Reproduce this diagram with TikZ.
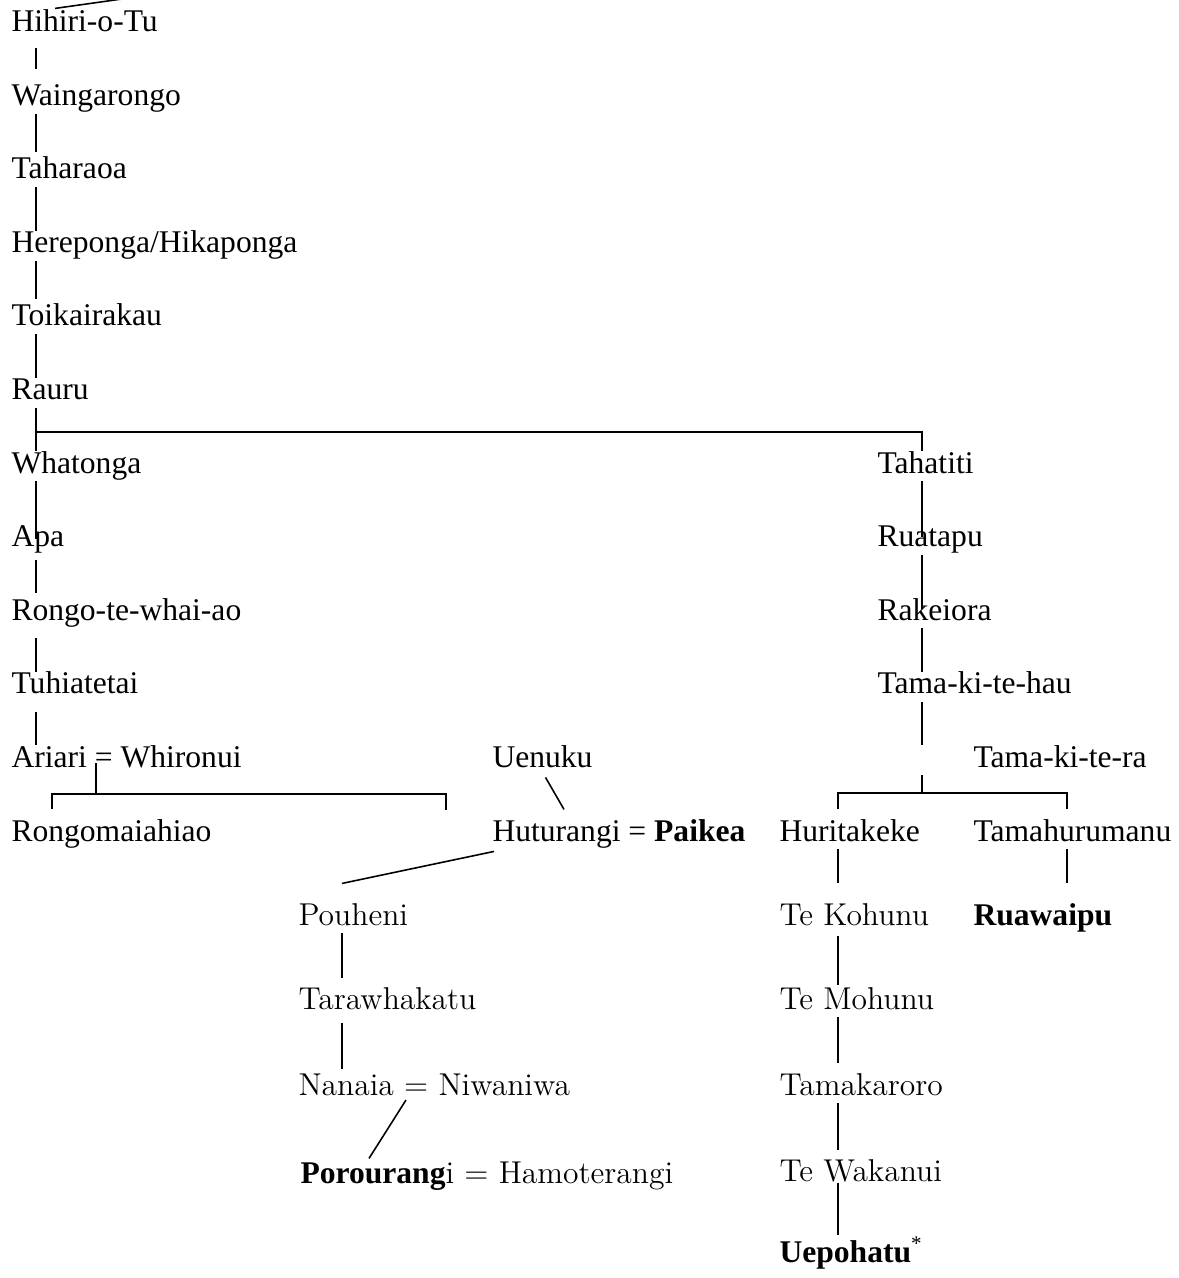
\documentclass[tikz,border=0pt]{standalone}
\usepackage{fontspec}
\setmainfont{Liberation Serif}
\newfontfamily\altserif{Latin Modern Roman}
\usetikzlibrary{calc}

\tikzset{
  person/.style={inner sep=0pt, anchor=base west, text height=8pt, text depth=3pt,
                 font=\fontsize{12}{14}\selectfont},
  personalt/.style={person, font=\fontsize{12}{14}\selectfont\altserif},
  link/.style={line width=0.6pt},
}

\begin{document}
\begin{tikzpicture}[x=0.38pt, y=-0.38pt]
    \useasboundingbox (0,0) rectangle (1179,1278);
    % line columns
    \coordinate (colL) at (36,0);
    \coordinate (colR) at (922,0);
    \coordinate (colH) at (838,0);
    \coordinate (colT) at (1067,0);
    \coordinate (colP) at (342,0);
    \coordinate (topend) at (122,-1);
    \coordinate (rauruBar) at (0,432);
    \coordinate (ariariBar) at (0,794);
    \coordinate (tamaBar) at (922,793);
    \coordinate (ariariEnd) at (446,810);

    % left line
    \node[person] (hihiri)      at (11,32)    {Hihiri-o-Tu};
    \node[person] (waingarongo) at (11,105.5) {Waingarongo};
    \node[person] (taharaoa)    at (11,179)   {Taharaoa};
    \node[person] (hereponga)   at (11,252.5) {Hereponga/Hikaponga};
    \node[person] (toikairakau) at (11,326)   {Toikairakau};
    \node[person] (rauru)       at (11,399.5) {Rauru};
    \node[person] (whatonga)    at (11,473)   {Whatonga};
    \node[person] (apa)         at (11,546.5) {Apa};
    \node[person] (rongo)       at (11,620)   {Rongo-te-whai-ao};
    \node[person] (tuhiatetai)  at (11,693.5) {Tuhiatetai};
    \node[person] (ariari)      at (11,767)   {Ariari = Whironui};
    \node[person] (rongomai)    at (11,841)   {Rongomaiahiao};

    % middle line
    \node[person] (uenuku)      at (492,767)  {Uenuku};
    \node[person] (huturangi)   at (492,841)  {Huturangi = \textbf{Paikea}};
    \node[personalt] (pouheni)     at (298,925)  {Pouheni};
    \node[personalt] (tarawhakatu) at (298,1009) {Tarawhakatu};
    \node[personalt] (nanaia)      at (298,1095) {Nanaia = Niwaniwa};
    \node[personalt] (porourangi)  at (300,1183) {{\rmfamily\bfseries Porourang}i = Hamoterangi};

    % right line
    \node[person] (tahatiti)     at (877,473)   {Tahatiti};
    \node[person] (ruatapu)      at (877,546.5) {Ruatapu};
    \node[person] (rakeiora)     at (877,620)   {Rakeiora};
    \node[person] (tamahau)      at (877,693.5) {Tama-ki-te-hau};
    \node[person] (tamara)       at (973,767)   {Tama-ki-te-ra};
    \node[person] (huritakeke)   at (779,841)   {Huritakeke};
    \node[person] (tamahurumanu) at (973,841)   {Tamahurumanu};
    \node[personalt] (kohunu)     at (779,925)  {Te Kohunu};
    \node[person] (ruawaipu)      at (973,925)  {\textbf{Ruawaipu}};
    \node[personalt] (mohunu)     at (779,1009) {Te Mohunu};
    \node[personalt] (tamakaroro) at (779,1095) {Tamakaroro};
    \node[personalt] (wakanui)    at (779,1181) {Te Wakanui};
    \node[person] (uepohatu)      at (779,1262) {\textbf{Uepohatu}\textsuperscript{*}};

    % left descent
    \draw[link] ($(hihiri.north west)+(44,-2)$) -- (topend);
    \draw[link, shorten <=3pt, shorten >=5.5pt] (hihiri.south -| colL) -- (waingarongo.north -| colL);
    \draw[link, shorten >=2pt] (waingarongo.south -| colL) -- (taharaoa.north -| colL);
    \draw[link] (taharaoa.south -| colL) -- (hereponga.north -| colL);
    \draw[link, shorten >=2pt] (hereponga.south -| colL) -- (toikairakau.north -| colL);
    \draw[link] (toikairakau.south -| colL) -- (rauru.north -| colL);
    \draw[link] (rauru.south -| colL) -- (whatonga.north -| colL);
    \draw[link] (colL |- rauruBar) -- (colR |- rauruBar) -- (tahatiti.north -| colR);
    \draw[link, shorten >=-5.5pt] (whatonga.south -| colL) -- (apa.north -| colL);
    \draw[link, shorten <=2pt, shorten >=2pt] (apa.south -| colL) -- (rongo.north -| colL);
    \draw[link, shorten <=3.5pt] (rongo.south -| colL) -- (tuhiatetai.north -| colL);
    \draw[link, shorten <=4pt] (tuhiatetai.south -| colL) -- (ariari.north -| colL);

    % Ariari = Whironui
    \coordinate (ariariEq) at ($(ariari.base west)+(85,-4)$);
    \draw[link] (ariariEq) -- (ariariEq |- ariariBar);
    \draw[link, shorten <=3.8pt] ($(rongomai.north west)+(41,0)$) |- (ariariBar -| ariariEnd) -- (ariariEnd);

    % Uenuku, Huturangi = Paikea
    \draw[link] ($(uenuku.south)+(3,2)$) -- ($(huturangi.north west)+(72,-10)$);
    \draw[link] ($(huturangi.south west)+(2,2)$) -- ($(pouheni.north west)+(44,-20)$);
    \draw[link, shorten >=3.5pt] (pouheni.south -| colP) -- (tarawhakatu.north -| colP);
    \draw[link, shorten <=2pt, shorten >=1.5pt] (tarawhakatu.south -| colP) -- (nanaia.north -| colP);
    \draw[link] ($(nanaia.base west)+(108,5)$) -- ($(porourangi.north west)+(69,-3)$);

    % right descent
    \draw[link, shorten >=-4.5pt] (tahatiti.south -| colR) -- (ruatapu.north -| colR);
    \draw[link, shorten >=-4pt] (ruatapu.south -| colR) -- (rakeiora.north -| colR);
    \draw[link] (rakeiora.south -| colR) -- (tamahau.north -| colR);
    \draw[link] (tamahau.south -| colR) -- (tamara.north -| colR);
    \draw[link] (tamara.south -| colR) -- (tamaBar);
    \draw[link, shorten <=3.8pt, shorten >=3.8pt] (huritakeke.north -| colH) |- (tamaBar)
          -| (tamahurumanu.north -| colT);
    \draw[link, shorten >=7.6pt] (huritakeke.south -| colH) -- (kohunu.north -| colH);
    \draw[link, shorten >=7.6pt] (tamahurumanu.south -| colT) -- (ruawaipu.north -| colT);
    \draw[link, shorten <=1pt, shorten >=1pt] (kohunu.south -| colH) -- (mohunu.north -| colH);
    \draw[link, shorten >=4pt] (mohunu.south -| colH) -- (tamakaroro.north -| colH);
    \draw[link, shorten >=3.5pt] (tamakaroro.south -| colH) -- (wakanui.north -| colH);
    \draw[link, shorten <=-2.5pt, shorten >=2pt] (wakanui.south -| colH) -- (uepohatu.north -| colH);
\end{tikzpicture}
\end{document}
